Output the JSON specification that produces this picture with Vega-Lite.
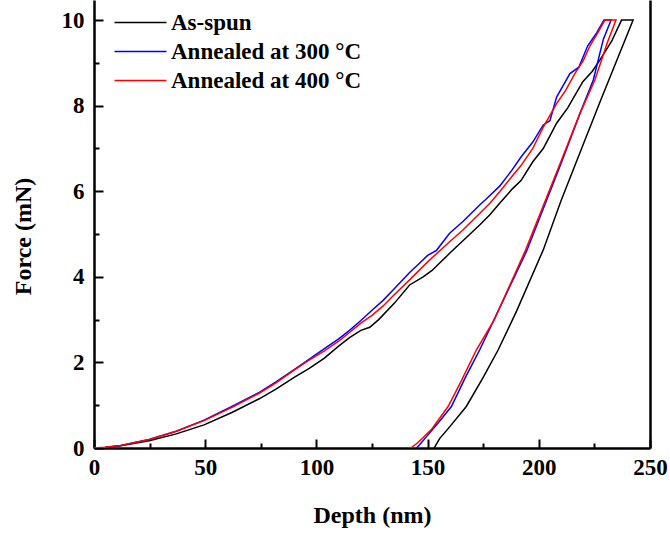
{
  "$schema": "https://vega.github.io/schema/vega-lite/v6.json",
  "width": 556,
  "height": 448,
  "autosize": {"type": "none"},
  "padding": {"left": 94, "top": 0, "right": 20, "bottom": 87},
  "config": {"view": {"stroke": null}, "font": "Liberation Serif"},
  "data": {"values": [
    {"s":"As-spun","i":0,"d":0,"f":0},{"s":"As-spun","i":1,"d":5,"f":0.01},{"s":"As-spun","i":2,"d":12,"f":0.05},{"s":"As-spun","i":3,"d":24.8,"f":0.17},{"s":"As-spun","i":4,"d":37,"f":0.33},{"s":"As-spun","i":5,"d":49.5,"f":0.54},{"s":"As-spun","i":6,"d":62,"f":0.83},{"s":"As-spun","i":7,"d":74.3,"f":1.15},{"s":"As-spun","i":8,"d":82,"f":1.38},{"s":"As-spun","i":9,"d":90,"f":1.65},{"s":"As-spun","i":10,"d":96.8,"f":1.86},{"s":"As-spun","i":11,"d":103.6,"f":2.1},{"s":"As-spun","i":12,"d":110,"f":2.38},{"s":"As-spun","i":13,"d":114.9,"f":2.58},{"s":"As-spun","i":14,"d":120,"f":2.75},{"s":"As-spun","i":15,"d":124,"f":2.82},{"s":"As-spun","i":16,"d":128,"f":3.0},{"s":"As-spun","i":17,"d":135,"f":3.38},{"s":"As-spun","i":18,"d":141.9,"f":3.81},{"s":"As-spun","i":19,"d":148,"f":4.0},{"s":"As-spun","i":20,"d":152,"f":4.15},{"s":"As-spun","i":21,"d":159.9,"f":4.55},{"s":"As-spun","i":22,"d":166,"f":4.85},{"s":"As-spun","i":23,"d":173.4,"f":5.21},{"s":"As-spun","i":24,"d":178,"f":5.45},{"s":"As-spun","i":25,"d":182.4,"f":5.72},{"s":"As-spun","i":26,"d":188,"f":6.05},{"s":"As-spun","i":27,"d":192,"f":6.25},{"s":"As-spun","i":28,"d":197.3,"f":6.69},{"s":"As-spun","i":29,"d":202,"f":7.0},{"s":"As-spun","i":30,"d":208,"f":7.59},{"s":"As-spun","i":31,"d":213,"f":7.95},{"s":"As-spun","i":32,"d":219.8,"f":8.56},{"s":"As-spun","i":33,"d":224,"f":8.8},{"s":"As-spun","i":34,"d":227.5,"f":9.07},{"s":"As-spun","i":35,"d":232.7,"f":9.5},{"s":"As-spun","i":36,"d":237.2,"f":10},{"s":"As-spun","i":37,"d":242.4,"f":10},{"s":"As-spun","i":38,"d":238.5,"f":9.5},{"s":"As-spun","i":39,"d":235,"f":9.05},{"s":"As-spun","i":40,"d":228,"f":8.15},{"s":"As-spun","i":41,"d":220,"f":7.1},{"s":"As-spun","i":42,"d":210,"f":5.78},{"s":"As-spun","i":43,"d":202,"f":4.63},{"s":"As-spun","i":44,"d":190,"f":3.2},{"s":"As-spun","i":45,"d":181.7,"f":2.29},{"s":"As-spun","i":46,"d":175,"f":1.65},{"s":"As-spun","i":47,"d":167.4,"f":0.97},{"s":"As-spun","i":48,"d":160,"f":0.5},{"s":"As-spun","i":49,"d":155.4,"f":0.22},{"s":"As-spun","i":50,"d":153.5,"f":0.05},{"s":"As-spun","i":51,"d":153,"f":0},
    {"s":"Annealed at 300 °C","i":0,"d":0,"f":0},{"s":"Annealed at 300 °C","i":1,"d":5,"f":0.01},{"s":"Annealed at 300 °C","i":2,"d":12,"f":0.06},{"s":"Annealed at 300 °C","i":3,"d":24.8,"f":0.2},{"s":"Annealed at 300 °C","i":4,"d":37,"f":0.39},{"s":"Annealed at 300 °C","i":5,"d":49.5,"f":0.65},{"s":"Annealed at 300 °C","i":6,"d":62,"f":0.97},{"s":"Annealed at 300 °C","i":7,"d":74.3,"f":1.3},{"s":"Annealed at 300 °C","i":8,"d":82,"f":1.55},{"s":"Annealed at 300 °C","i":9,"d":90,"f":1.83},{"s":"Annealed at 300 °C","i":10,"d":96,"f":2.05},{"s":"Annealed at 300 °C","i":11,"d":103.6,"f":2.32},{"s":"Annealed at 300 °C","i":12,"d":110,"f":2.55},{"s":"Annealed at 300 °C","i":13,"d":114.9,"f":2.75},{"s":"Annealed at 300 °C","i":14,"d":120,"f":2.98},{"s":"Annealed at 300 °C","i":15,"d":125,"f":3.22},{"s":"Annealed at 300 °C","i":16,"d":130,"f":3.45},{"s":"Annealed at 300 °C","i":17,"d":135,"f":3.72},{"s":"Annealed at 300 °C","i":18,"d":141.9,"f":4.1},{"s":"Annealed at 300 °C","i":19,"d":146,"f":4.3},{"s":"Annealed at 300 °C","i":20,"d":150,"f":4.5},{"s":"Annealed at 300 °C","i":21,"d":154,"f":4.62},{"s":"Annealed at 300 °C","i":22,"d":159.9,"f":5.02},{"s":"Annealed at 300 °C","i":23,"d":166,"f":5.3},{"s":"Annealed at 300 °C","i":24,"d":173.4,"f":5.68},{"s":"Annealed at 300 °C","i":25,"d":176,"f":5.8},{"s":"Annealed at 300 °C","i":26,"d":182.4,"f":6.12},{"s":"Annealed at 300 °C","i":27,"d":188,"f":6.5},{"s":"Annealed at 300 °C","i":28,"d":192,"f":6.8},{"s":"Annealed at 300 °C","i":29,"d":197.3,"f":7.15},{"s":"Annealed at 300 °C","i":30,"d":202,"f":7.55},{"s":"Annealed at 300 °C","i":31,"d":205,"f":7.65},{"s":"Annealed at 300 °C","i":32,"d":208,"f":8.2},{"s":"Annealed at 300 °C","i":33,"d":214,"f":8.75},{"s":"Annealed at 300 °C","i":34,"d":218,"f":8.9},{"s":"Annealed at 300 °C","i":35,"d":222,"f":9.4},{"s":"Annealed at 300 °C","i":36,"d":226,"f":9.7},{"s":"Annealed at 300 °C","i":37,"d":229.3,"f":10},{"s":"Annealed at 300 °C","i":38,"d":232.5,"f":10},{"s":"Annealed at 300 °C","i":39,"d":229,"f":9.55},{"s":"Annealed at 300 °C","i":40,"d":224.5,"f":8.6},{"s":"Annealed at 300 °C","i":41,"d":218,"f":7.75},{"s":"Annealed at 300 °C","i":42,"d":210,"f":6.65},{"s":"Annealed at 300 °C","i":43,"d":194.5,"f":4.6},{"s":"Annealed at 300 °C","i":44,"d":184,"f":3.45},{"s":"Annealed at 300 °C","i":45,"d":173.4,"f":2.29},{"s":"Annealed at 300 °C","i":46,"d":167,"f":1.65},{"s":"Annealed at 300 °C","i":47,"d":160.7,"f":0.97},{"s":"Annealed at 300 °C","i":48,"d":155,"f":0.6},{"s":"Annealed at 300 °C","i":49,"d":149.4,"f":0.26},{"s":"Annealed at 300 °C","i":50,"d":146.5,"f":0.08},{"s":"Annealed at 300 °C","i":51,"d":145,"f":0},
    {"s":"Annealed at 400 °C","i":0,"d":0,"f":0},{"s":"Annealed at 400 °C","i":1,"d":5,"f":0.015},{"s":"Annealed at 400 °C","i":2,"d":12,"f":0.06},{"s":"Annealed at 400 °C","i":3,"d":24.8,"f":0.2},{"s":"Annealed at 400 °C","i":4,"d":37,"f":0.39},{"s":"Annealed at 400 °C","i":5,"d":49.5,"f":0.64},{"s":"Annealed at 400 °C","i":6,"d":62,"f":0.95},{"s":"Annealed at 400 °C","i":7,"d":74.3,"f":1.28},{"s":"Annealed at 400 °C","i":8,"d":82,"f":1.53},{"s":"Annealed at 400 °C","i":9,"d":90,"f":1.82},{"s":"Annealed at 400 °C","i":10,"d":96,"f":2.03},{"s":"Annealed at 400 °C","i":11,"d":103.6,"f":2.27},{"s":"Annealed at 400 °C","i":12,"d":110,"f":2.5},{"s":"Annealed at 400 °C","i":13,"d":114.9,"f":2.7},{"s":"Annealed at 400 °C","i":14,"d":120,"f":2.92},{"s":"Annealed at 400 °C","i":15,"d":125,"f":3.1},{"s":"Annealed at 400 °C","i":16,"d":130,"f":3.32},{"s":"Annealed at 400 °C","i":17,"d":135,"f":3.58},{"s":"Annealed at 400 °C","i":18,"d":141.9,"f":3.93},{"s":"Annealed at 400 °C","i":19,"d":150,"f":4.35},{"s":"Annealed at 400 °C","i":20,"d":159.9,"f":4.82},{"s":"Annealed at 400 °C","i":21,"d":166,"f":5.1},{"s":"Annealed at 400 °C","i":22,"d":173.4,"f":5.48},{"s":"Annealed at 400 °C","i":23,"d":178,"f":5.72},{"s":"Annealed at 400 °C","i":24,"d":182.4,"f":5.99},{"s":"Annealed at 400 °C","i":25,"d":188,"f":6.35},{"s":"Annealed at 400 °C","i":26,"d":192,"f":6.6},{"s":"Annealed at 400 °C","i":27,"d":197.3,"f":7.0},{"s":"Annealed at 400 °C","i":28,"d":202,"f":7.5},{"s":"Annealed at 400 °C","i":29,"d":208,"f":8.05},{"s":"Annealed at 400 °C","i":30,"d":212,"f":8.35},{"s":"Annealed at 400 °C","i":31,"d":216.2,"f":8.75},{"s":"Annealed at 400 °C","i":32,"d":220,"f":9.05},{"s":"Annealed at 400 °C","i":33,"d":223,"f":9.4},{"s":"Annealed at 400 °C","i":34,"d":226.5,"f":9.7},{"s":"Annealed at 400 °C","i":35,"d":229.7,"f":10},{"s":"Annealed at 400 °C","i":36,"d":234.7,"f":10},{"s":"Annealed at 400 °C","i":37,"d":231,"f":9.5},{"s":"Annealed at 400 °C","i":38,"d":225.2,"f":8.6},{"s":"Annealed at 400 °C","i":39,"d":218.5,"f":7.82},{"s":"Annealed at 400 °C","i":40,"d":210,"f":6.7},{"s":"Annealed at 400 °C","i":41,"d":194.1,"f":4.63},{"s":"Annealed at 400 °C","i":42,"d":180,"f":3.0},{"s":"Annealed at 400 °C","i":43,"d":171.9,"f":2.29},{"s":"Annealed at 400 °C","i":44,"d":165,"f":1.55},{"s":"Annealed at 400 °C","i":45,"d":159.2,"f":0.97},{"s":"Annealed at 400 °C","i":46,"d":152,"f":0.45},{"s":"Annealed at 400 °C","i":47,"d":147.9,"f":0.24},{"s":"Annealed at 400 °C","i":48,"d":145,"f":0.1},{"s":"Annealed at 400 °C","i":49,"d":143,"f":0.02},{"s":"Annealed at 400 °C","i":50,"d":141,"f":0}
  ]},
  "layer": [
    {
      "mark": {"type": "line", "strokeWidth": 1.5, "clip": true},
      "encoding": {
        "x": {"field": "d", "type": "quantitative",
          "scale": {"domain": [0, 250], "nice": false, "zero": false},
          "axis": {"orient": "bottom", "values": [0, 50, 100, 150, 200, 250], "grid": false,
            "domainColor": "black", "domainWidth": 2.5, "tickColor": "black", "tickWidth": 2, "tickSize": -9,
            "labelFont": "Liberation Serif", "labelFontWeight": "bold", "labelFontSize": 23, "labelColor": "black",
            "labelPadding": 17, "labelFlush": false, "labelOverlap": false,
            "title": "Depth (nm)", "titleFont": "Liberation Serif", "titleFontWeight": "bold", "titleFontSize": 24, "titleColor": "black", "titlePadding": 24}},
        "y": {"field": "f", "type": "quantitative",
          "scale": {"domain": [0, 10.47], "nice": false, "zero": false},
          "axis": {"orient": "left", "values": [0, 2, 4, 6, 8, 10], "grid": false,
            "domainColor": "black", "domainWidth": 2.5, "tickColor": "black", "tickWidth": 2, "tickSize": -9,
            "labelFont": "Liberation Serif", "labelFontWeight": "bold", "labelFontSize": 23, "labelColor": "black",
            "labelPadding": 19, "labelFlush": false, "labelOverlap": false,
            "title": "Force (mN)", "titleFont": "Liberation Serif", "titleFontWeight": "bold", "titleFontSize": 24, "titleColor": "black", "titlePadding": 26, "titleY": 236}},
        "color": {"field": "s", "type": "nominal",
          "scale": {"domain": ["As-spun", "Annealed at 300 °C", "Annealed at 400 °C"], "range": ["#000000", "#0000ff", "#ff0000"]},
          "legend": {"title": null, "orient": "none", "legendX": 35, "legendY": 11, "padding": 0,
            "symbolType": "M-3,0H3", "symbolSize": 300, "symbolStrokeWidth": 1.5,
            "labelFont": "Liberation Serif", "labelFontWeight": "bold", "labelFontSize": 23, "labelColor": "black",
            "labelOffset": 19, "labelLimit": 0, "rowPadding": 5}},
        "order": {"field": "i", "type": "quantitative"}
      }
    },
    {
      "mark": {"type": "line", "opacity": 0},
      "encoding": {
        "x": {"field": "d", "type": "quantitative",
          "axis": {"orient": "bottom", "values": [25, 75, 125, 175, 225], "grid": false, "domain": false, "labels": false, "title": null,
            "tickColor": "black", "tickWidth": 2, "tickSize": -5}},
        "y": {"field": "f", "type": "quantitative",
          "axis": {"orient": "left", "values": [1, 3, 5, 7, 9], "grid": false, "domain": false, "labels": false, "title": null,
            "tickColor": "black", "tickWidth": 2, "tickSize": -5}}
      }
    },
    {
      "mark": {"type": "line", "opacity": 0},
      "encoding": {
        "x": {"field": "d", "type": "quantitative", "axis": null},
        "y": {"field": "f", "type": "quantitative",
          "axis": {"orient": "right", "grid": false, "ticks": false, "labels": false, "title": null,
            "domainColor": "black", "domainWidth": 2.5}}
      }
    }
  ],
  "resolve": {"axis": {"x": "independent", "y": "independent"}}
}
